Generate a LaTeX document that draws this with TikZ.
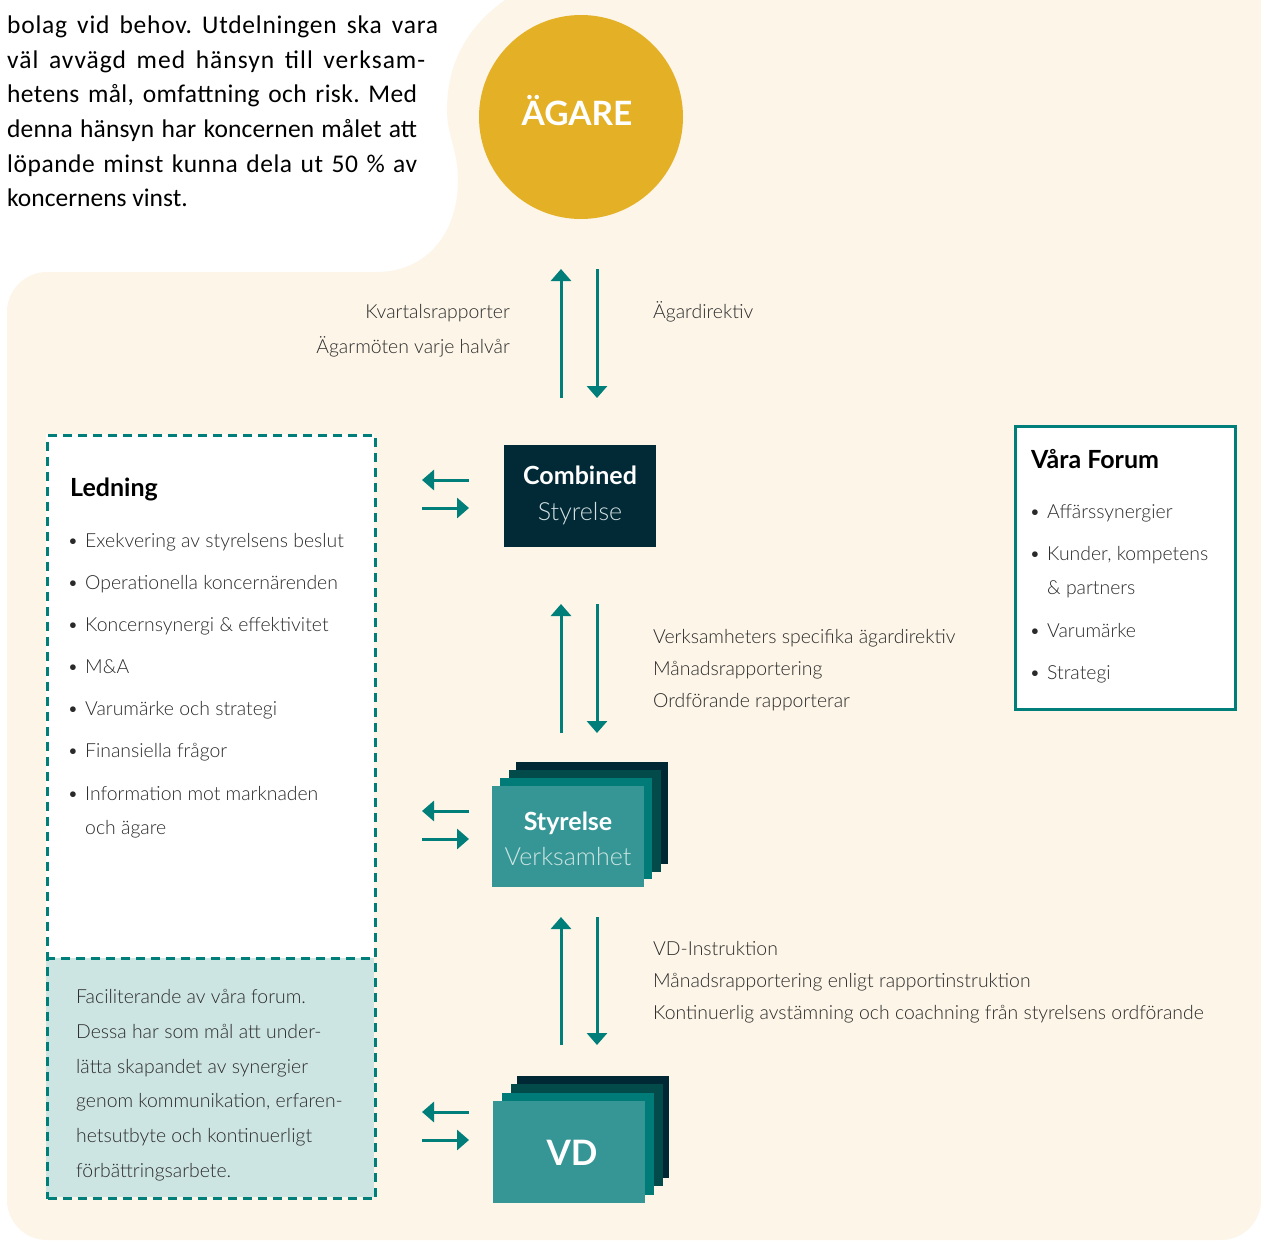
\documentclass[tikz,border=0pt]{standalone}
\usepackage{fontspec}
\setmainfont{Carlito}
\setsansfont{Lato}[UprightFont=* Light, BoldFont=* Bold]
\usetikzlibrary{arrows.meta}
\frenchspacing
\definecolor{cream}{HTML}{FCF5E8}
\definecolor{gold}{HTML}{E3B026}
\definecolor{navy}{HTML}{012A36}
\definecolor{tealA}{HTML}{369696}
\definecolor{tealB}{HTML}{007B78}
\definecolor{tealC}{HTML}{024B4A}
\definecolor{tealD}{HTML}{002734}
\definecolor{arrc}{HTML}{007E7A}
\definecolor{lteal}{HTML}{CDE5E2}
\definecolor{txt}{HTML}{2A2A2A}
\definecolor{paletxt}{HTML}{D3E0E2}
\begin{document}
\begin{tikzpicture}[x=1pt,y=-1pt,
  arr/.style={draw=arrc, line width=3pt, -{Triangle[width=20pt,length=12pt]}},
  lbl/.style={font=\sffamily\fontsize{19.4}{24}\selectfont, text=txt, inner sep=0pt},
  item/.style={lbl, anchor=base west},
  bul/.style={font=\sffamily\fontsize{19.4}{24}\selectfont, text=txt, inner sep=0pt, anchor=base},
  head/.style={font=\sffamily\bfseries\fontsize{25}{30}\selectfont, text=black, inner sep=0pt, anchor=base west},
  boxbold/.style={font=\sffamily\bfseries\fontsize{25}{30}\selectfont, text=white, inner sep=0pt, anchor=base},
  boxlight/.style={font=\sffamily\fontsize{25}{30}\selectfont, inner sep=0pt, anchor=base},
  dashbox/.style={draw=arrc, line width=3pt, dash pattern=on 9pt off 6pt},
  body/.style={font=\rmfamily\fontsize{25.5}{30}\selectfont\frenchspacing, text=black, inner sep=0pt, anchor=base west}
]
\useasboundingbox (0,0) rectangle (1261,1240);
\fill[white] (0,0) rectangle (1261,1240);
% cream background
\fill[cream] (7,312) .. controls (7,290) and (25,272) .. (47,272) -- (377,272)
  .. controls (425,272) and (458,235) .. (458,180)
  .. controls (458,150) and (447,135) .. (447,110)
  .. controls (447,60) and (470,25) .. (505,0)
  -- (1261,0) -- (1261,1200) .. controls (1261,1222) and (1243,1240) .. (1221,1240)
  -- (47,1240) .. controls (25,1240) and (7,1222) .. (7,1200) -- cycle;

% top-left text
\foreach \y/\w/\ls/\t [count=\i] in {33/431/3/bolag vid behov. Utdelningen ska vara,
  68/418/4/väl avvägd med hänsyn till verksam-,
  102/410/1.5/{hetens mål, omfattning och risk. Med},
  137/410/0.6/denna hänsyn har koncernen målet att,
  172/410/2.2/löpande minst kunna dela ut 50 \% av}
  \node[body] (intro\i) at (7,\y) {\addfontfeature{LetterSpace=\ls}\makebox[\w pt][s]{\t}};
\node[body] (intro6) at (7,206) {koncernens vinst.};

% owner circle
\node[circle, fill=gold, minimum size=204pt, inner sep=0pt] (agare) at (581,117) {};
\node[font=\sffamily\bfseries\fontsize{33.5}{40}\selectfont, text=white, inner sep=0pt, anchor=base] (agaret) at (577,125) {ÄGARE};

% Combined Styrelse
\node[fill=navy, minimum width=152pt, minimum height=102pt, inner sep=0pt, anchor=north west] (comb) at (504,445) {};
\node[boxbold] (combt1) at (580,484) {Combined};
\node[boxlight, text=paletxt] (combt2) at (580,520) {Styrelse};

% Styrelse Verksamhet stack
\fill[tealD] (516,762) rectangle (668,864);
\fill[tealC] (509,770) rectangle (661,872);
\fill[tealB] (500,778) rectangle (652,879);
\node[fill=tealA, minimum width=152pt, minimum height=101pt, inner sep=0pt, anchor=north west] (sv) at (492,786) {};
\node[boxbold] (svt1) at (568,830) {Styrelse};
\node[boxlight, text=lteal] (svt2) at (568,865) {Verksamhet};

% VD stack
\fill[tealD] (517,1076) rectangle (669,1178);
\fill[tealC] (511,1084) rectangle (663,1186);
\fill[tealB] (502,1093) rectangle (654,1195);
\node[fill=tealA, minimum width=152pt, minimum height=102pt, inner sep=0pt, anchor=north west] (vd) at (493,1101) {};
\node[font=\sffamily\bfseries\fontsize{35}{40}\selectfont, text=white, inner sep=0pt, anchor=base] (vdt) at (572,1165) {VD};

% vertical arrow coordinates
\coordinate (u1s) at (561,398); \coordinate (u1e) at (561,269);
\coordinate (d1s) at (597,269); \coordinate (d1e) at (597,398);
\coordinate (u2s) at (561,733); \coordinate (u2e) at (561,604);
\coordinate (d2s) at (597,604); \coordinate (d2e) at (597,733);
\coordinate (u3s) at (561,1045); \coordinate (u3e) at (561,917);
\coordinate (d3s) at (597,917); \coordinate (d3e) at (597,1045);
\draw[arr] (u1s) -- (u1e);
\draw[arr] (d1s) -- (d1e);
\draw[arr] (u2s) -- (u2e);
\draw[arr] (d2s) -- (d2e);
\draw[arr] (u3s) -- (u3e);
\draw[arr] (d3s) -- (d3e);

% horizontal arrows
\coordinate (h1a) at (469,480); \coordinate (h1b) at (422,480);
\coordinate (h1c) at (422,508); \coordinate (h1d) at (469,508);
\coordinate (h2a) at (469,811); \coordinate (h2b) at (422,811);
\coordinate (h2c) at (422,839); \coordinate (h2d) at (469,839);
\coordinate (h3a) at (469,1112); \coordinate (h3b) at (422,1112);
\coordinate (h3c) at (422,1140); \coordinate (h3d) at (469,1140);
\draw[arr] (h1a) -- (h1b); \draw[arr] (h1c) -- (h1d);
\draw[arr] (h2a) -- (h2b); \draw[arr] (h2c) -- (h2d);
\draw[arr] (h3a) -- (h3b); \draw[arr] (h3c) -- (h3d);

% arrow labels
\node[lbl, anchor=base east] (l1a) at (510,318) {Kvartalsrapporter};
\node[lbl, anchor=base east] (l1b) at (510,353) {Ägarmöten varje halvår};
\node[item] (l1c) at (653,318) {Ägardirektiv};
\node[item] (l2a) at (653,643) {Verksamheters specifika ägardirektiv};
\node[item] (l2b) at (653,675) {Månadsrapportering};
\node[item] (l2c) at (653,707) {Ordförande rapporterar};
\node[item] (l3a) at (653,955) {VD-Instruktion};
\node[item] (l3b) at (653,987) {Månadsrapportering enligt rapportinstruktion};
\node[item] (l3c) at (653,1019) {Kontinuerlig avstämning och coachning från styrelsens ordförande};

% Ledning box
\fill[white] (46,434) rectangle (374,958);
\fill[lteal] (46,958) rectangle (374,1197);
\node[dashbox, minimum width=328pt, minimum height=763pt, inner sep=0pt, anchor=north west] (led) at (46,434) {};
\coordinate (divl) at (46,958); \coordinate (divr) at (374,958);
\draw[dashbox] (divl) -- (divr);
\node[head] (ledh) at (70,496) {Ledning};
\foreach \y/\t [count=\i] in {547/Exekvering av styrelsens beslut,
  589/Operationella koncernärenden,
  631/Koncernsynergi \& effektivitet,
  673/M\&A,
  715/Varumärke och strategi,
  757/Finansiella frågor,
  800/Information mot marknaden}
  {\node[item] (ledi\i) at (85,\y) {\t};
   \node[bul] (ledb\i) at (73,\y) {•};}
\node[item] (ledi8) at (85,834) {och ägare};
\foreach \y/\t [count=\i] in {1003/Faciliterande av våra forum.,
  1038/Dessa har som mål att under-,
  1073/lätta skapandet av synergier,
  1107/{genom kommunikation, erfaren-},
  1142/hetsutbyte och kontinuerligt,
  1177/förbättringsarbete.}
  \node[item] (fac\i) at (76,\y) {\t};

% Vara Forum box
\node[draw=arrc, fill=white, line width=3pt, minimum width=220pt, minimum height=283pt, inner sep=0pt, anchor=north west] (forum) at (1013.5,424.5) {};
\node[head] (forumh) at (1031,468) {Våra Forum};
\foreach \y/\t [count=\i] in {518/Affärssynergier, 560/{Kunder, kompetens}, 637/Varumärke, 679/Strategi}
  {\node[item] (fi\i) at (1047,\y) {\t};
   \node[bul] (fb\i) at (1035,\y) {•};}
\node[item] (fi5) at (1047,594) {\& partners};
\end{tikzpicture}
\end{document}
